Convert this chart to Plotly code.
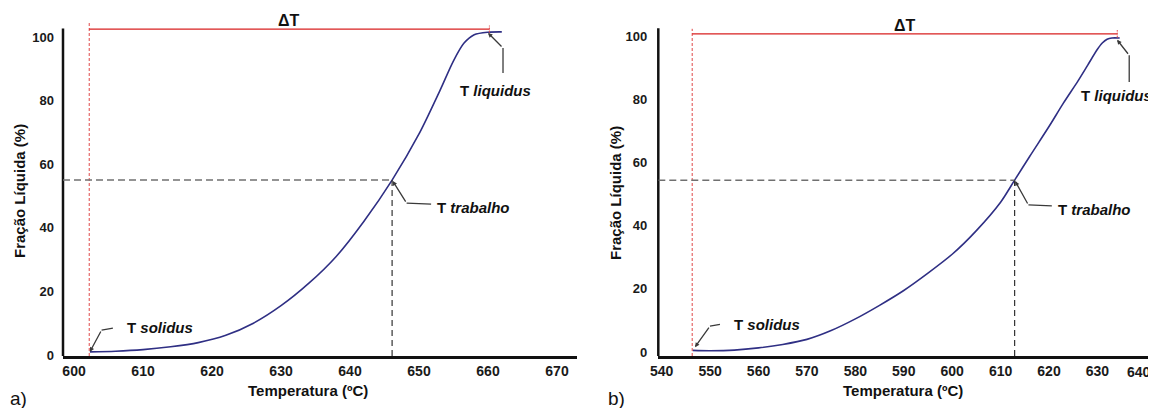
import plotly.graph_objects as go

# The page body adds an 8 px margin around the figure; the figure is sized
# and positioned so that it fits inside the 1156x416 window without scrolling.
PAGE_MARGIN = 8
W, H = 1156 - PAGE_MARGIN, 416 - 2 * PAGE_MARGIN
FONT = "Liberation Sans, Arial, sans-serif"

def fx(px):  # screen x pixel -> paper fraction
    return (px - PAGE_MARGIN) / W

def fy(py):  # screen y pixel -> paper fraction
    return 1 - (py - PAGE_MARGIN) / H

# ---------------- data: panel a ----------------
temp_a = [602.3, 606, 610, 614, 618, 622, 626, 630, 634, 638, 642, 646.1, 650,
          653, 655, 656.5, 658, 660, 662]
frac_a = [1.0, 1.2, 1.7, 2.6, 3.9, 6.2, 10.0, 15.5, 22.5, 31.0, 42.0, 55.0, 69.5,
          83.0, 92.5, 98.0, 100.7, 101.5, 101.6]
xticks_a = [600, 610, 620, 630, 640, 650, 660, 670]
solidus_a, liquidus_a = 602.2, 660.2
work_temp_a, work_frac_a = 646.1, 55.0

# ---------------- data: panel b ----------------
temp_b = [546.4, 550, 555, 560, 565, 570, 575, 580, 585, 590, 595, 600, 605, 610,
          612.9, 616, 620, 623, 626, 628, 630, 631, 632, 633, 634.6]
frac_b = [0.5, 0.4, 0.6, 1.3, 2.4, 4.0, 6.8, 10.5, 14.8, 19.5, 25.0, 31.0, 38.5, 47.5,
          54.5, 62, 71.5, 79, 86, 91, 96, 98, 99.2, 99.6, 99.6]
xticks_b = [540, 550, 560, 570, 580, 590, 600, 610, 620, 630, 640]
solidus_b, liquidus_b = 546.3, 634.1
work_temp_b, work_frac_b = 612.9, 54.5

yticks = [0, 20, 40, 60, 80, 100]

x_title = "Temperatura (ºC)"
y_title = "Fração Líquida (%)"

fig = go.Figure()
curve_color = "#2f2f84"
fig.add_trace(go.Scatter(x=temp_a, y=frac_a, mode="lines", xaxis="x", yaxis="y",
                         line=dict(color=curve_color, width=1.6, shape="spline", smoothing=0.8),
                         showlegend=False, hoverinfo="skip"))
fig.add_trace(go.Scatter(x=temp_b, y=frac_b, mode="lines", xaxis="x2", yaxis="y2",
                         line=dict(color=curve_color, width=1.6, shape="spline", smoothing=0.8),
                         showlegend=False, hoverinfo="skip"))

ydom = [fy(356), fy(19.5)]
tickfont = dict(family=FONT, size=14, color="#1a1a1a", weight="bold")
ytickfont = dict(family=FONT, size=13, color="#1a1a1a", weight="bold")

XR_A = [598.4, 672.9]
XR_B = [539.3, 642.1]
YR_A = [-0.31, 105.5]
YR_B = [-1.27, 105.45]

def xaxis(dom, rng, ticks, anchor, texts=None):
    return dict(domain=dom, range=rng, tickvals=ticks,
                ticktext=texts if texts is not None else [str(t) for t in ticks],
                showgrid=False, zeroline=False,
                showline=True, linecolor="#111", linewidth=2.5, ticks="",
                tickfont=tickfont, anchor=anchor, fixedrange=True, automargin=False,
                ticklabeloverflow="allow")

def yaxis(rng, anchor, standoff):
    return dict(domain=ydom, range=rng, tickvals=yticks, showgrid=False, zeroline=False,
                showline=False, ticks="", tickfont=ytickfont, anchor=anchor,
                ticklabelstandoff=standoff, fixedrange=True, automargin=False)

shapes = []
annotations = []

LEAD = "#3a3a3a"

def panel(xa, ya, xr, yr, temp, frac, sol, liq, wt, wf, top_axis, red_y, red_top, tick_span,
          sol_off, work_off, liq_off, dt_shift):
    ymin = yr[0]
    # y axis line
    shapes.append(dict(type="line", xref=f"{xa} domain", yref=ya, x0=0, x1=0,
                       y0=ymin, y1=top_axis, line=dict(color="#111", width=2.5)))
    # red dashed vertical at solidus
    shapes.append(dict(type="line", xref=xa, yref=ya, x0=sol, x1=sol, y0=ymin, y1=red_top,
                       line=dict(color="#e04848", width=1, dash="3px,2px")))
    # red horizontal (delta T)
    shapes.append(dict(type="line", xref=xa, yref=ya, x0=sol, x1=liq, y0=red_y, y1=red_y,
                       line=dict(color="#d82020", width=1.2)))
    shapes.append(dict(type="line", xref=xa, yref=ya, x0=liq, x1=liq,
                       y0=red_y - tick_span, y1=red_y + tick_span,
                       line=dict(color="#e04848", width=1, dash="2px,1px")))
    # gray dashed horizontal at working fraction
    shapes.append(dict(type="line", xref=xa, yref=ya, x0=xr[0], x1=wt,
                       y0=wf, y1=wf, line=dict(color="#707070", width=1.5, dash="7px,4px")))
    # black dashed vertical at working temperature
    shapes.append(dict(type="line", xref=xa, yref=ya, x0=wt, x1=wt, y0=ymin, y1=wf,
                       line=dict(color="#333333", width=1.2, dash="6px,4px")))
    # delta T label
    annotations.append(dict(x=(sol + liq) / 2, y=red_y, xref=xa, yref=ya, yshift=dt_shift,
                            text="<b>ΔT</b>", showarrow=False,
                            font=dict(family=FONT, size=16, color="#111")))

    def leader(px, py, off, label):
        kx, ky, stand = off["knee"][0], off["knee"][1], off.get("standoff", 0)
        annotations.append(dict(x=px, y=py, xref=xa, yref=ya, ax=kx, ay=-ky, text="",
                                showarrow=True, arrowhead=2, arrowsize=0.7, arrowwidth=1.3,
                                arrowcolor=LEAD, standoff=stand))
        ex, ey = off["end"]
        shapes.append(dict(type="path", xref=xa, yref=ya, xsizemode="pixel", ysizemode="pixel",
                           xanchor=px, yanchor=py, path=f"M{kx},{ky} L{ex},{ey}",
                           line=dict(color=LEAD, width=1.3)))
        tx, ty = off["text"]
        annotations.append(dict(x=px, y=py, xref=xa, yref=ya, xshift=tx, yshift=ty,
                                xanchor=off.get("anchor", "left"), yanchor="middle",
                                text=label, showarrow=False,
                                font=dict(family=FONT, size=15, color="#111")))

    leader(temp[0], frac[0], sol_off, "<b>T <i>solidus</i></b>")
    leader(wt, wf, work_off, "<b>T <i>trabalho</i></b>")
    leader(liq - 0.3, frac[-1] - 0.1, liq_off, "<b>T <i>liquidus</i></b>")


# last tick label of panel b sits at the window edge: draw it nudged inwards
texts_b = [str(t) for t in xticks_b[:-1]] + [""]

fig.update_layout(
    width=W, height=H, margin=dict(l=0, r=0, t=0, b=0, autoexpand=False),
    paper_bgcolor="white", plot_bgcolor="white", showlegend=False,
    xaxis=xaxis([fx(63), fx(577)], XR_A, xticks_a, "y"),
    yaxis=yaxis(YR_A, "x", 8),
    xaxis2=xaxis([fx(658.3), 1.0], XR_B, xticks_b, "y2", texts_b),
    yaxis2=yaxis(YR_B, "x2", 10),
)
annotations.append(dict(x=xticks_b[-1], y=YR_B[0], xref="x2", yref="y2", xshift=-7,
                        yshift=-15.5, yanchor="middle", xanchor="center",
                        text=str(xticks_b[-1]), showarrow=False, font=tickfont))

panel("x", "y", XR_A, YR_A, temp_a, frac_a, solidus_a, liquidus_a, work_temp_a, work_frac_a,
      top_axis=102.7, red_y=102.5, red_top=104.4, tick_span=1.1,
      sol_off=dict(knee=(11.7, 21.8), end=(23, 23.8), text=(35, 24), standoff=0),
      work_off=dict(knee=(14.5, -23), end=(39, -24), text=(43, -27.5), standoff=1),
      liq_off=dict(knee=(15.7, -15.8), end=(15.7, -40.8), text=(7.7, -57.8), anchor="center",
                   standoff=1),
      dt_shift=9)

panel("x2", "y2", XR_B, YR_B, temp_b, frac_b, solidus_b, liquidus_b, work_temp_b, work_frac_b,
      top_axis=102.7, red_y=100.9, red_top=102.5, tick_span=1.2,
      sol_off=dict(knee=(17.3, 24.4), end=(27.3, 26.1), text=(39, 26.4), standoff=4),
      work_off=dict(knee=(13.8, -24.8), end=(37.2, -25.8), text=(41.5, -29.8), standoff=1),
      liq_off=dict(knee=(13.4, -17), end=(13.4, -43.7), text=(38, -57.7), anchor="right",
                   standoff=2),
      dt_shift=8)

def paper_text(px, py, text, size, angle=0, xanchor="center", bold=True):
    annotations.append(dict(x=max(fx(px), 0), y=fy(py), xref="paper", yref="paper",
                            text=f"<b>{text}</b>" if bold else text, showarrow=False,
                            textangle=angle, xanchor=xanchor, yanchor="middle",
                            font=dict(family=FONT, size=size, color="#111")))

paper_text(308, 390, x_title, 15)
paper_text(903, 390, x_title, 15)
paper_text(19, 191, y_title, 15, angle=-90)
paper_text(615, 193, y_title, 15, angle=-90)
paper_text(8, 398, "a)", 19, xanchor="left", bold=False)
paper_text(606, 398, "b)", 19, xanchor="left", bold=False)

fig.update_layout(shapes=shapes, annotations=annotations)
fig.write_html("out.html")
